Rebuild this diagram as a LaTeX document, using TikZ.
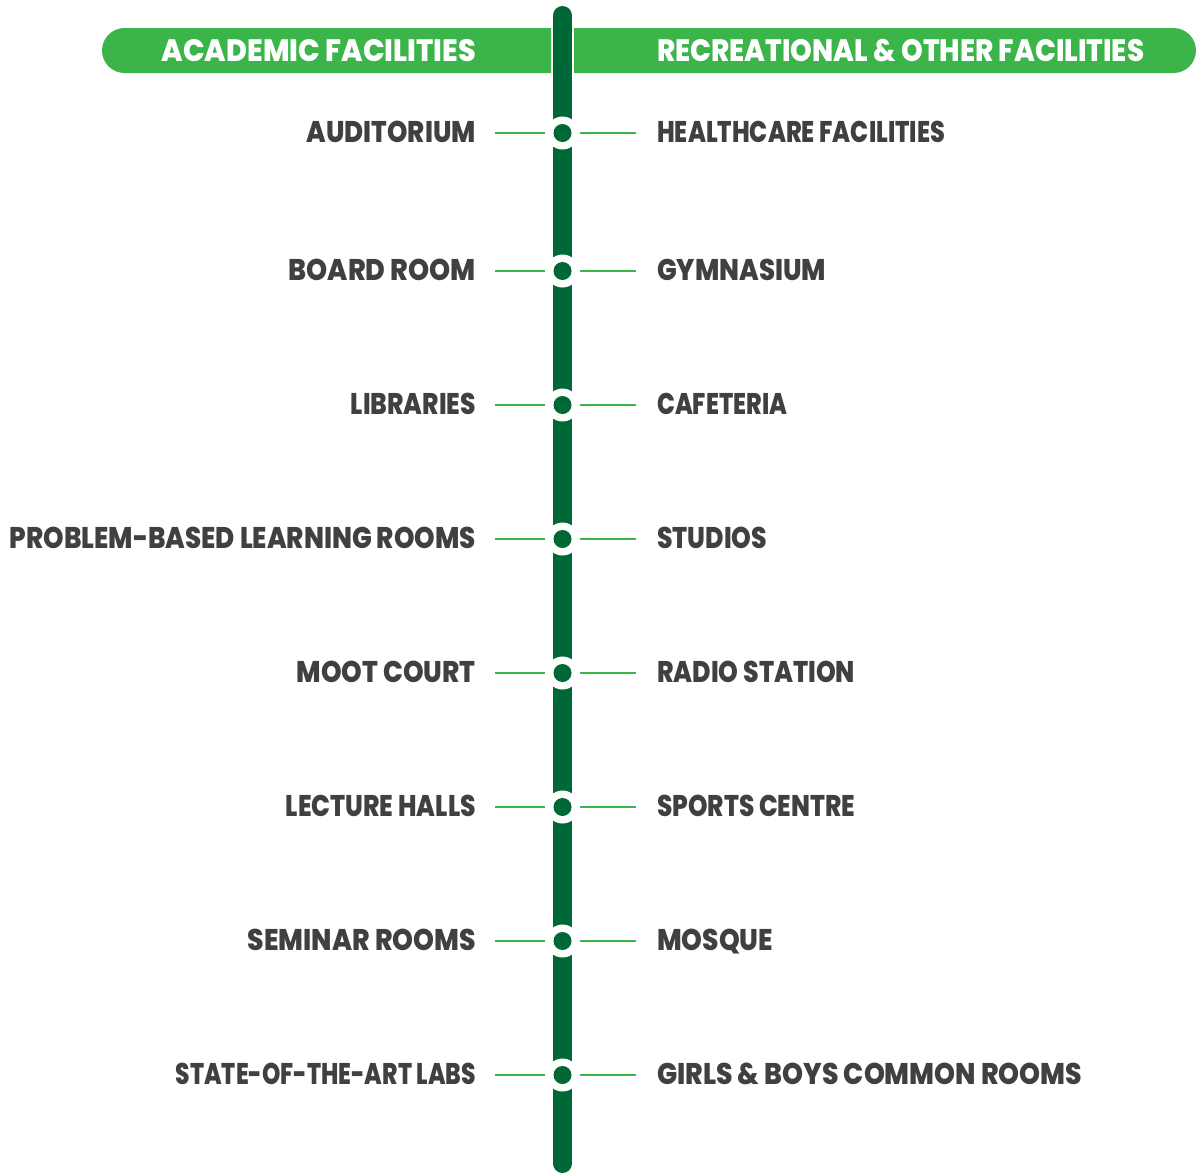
\documentclass[tikz,border=0pt]{standalone}
\usepackage{fontspec}
\setmainfont{Poppins}[UprightFont=* ExtraBold, BoldFont=* ExtraBold]
\definecolor{dkgreen}{HTML}{006837}
\definecolor{ltgreen}{HTML}{3BB54A}
\definecolor{txtgray}{HTML}{404041}
\newcommand{\fitw}[2]{\resizebox{#1bp}{\height}{#2}}
\begin{document}
\begin{tikzpicture}[x=1bp,y=-1bp,
  itemL/.style={anchor=base east,inner sep=0,text=txtgray,font=\fontsize{30}{30}\selectfont},
  itemR/.style={anchor=base west,inner sep=0,text=txtgray,font=\fontsize{30}{30}\selectfont},
  title/.style={inner sep=0,text=white,font=\fontsize{31}{31}\selectfont},
  tick/.style={draw=ltgreen,line width=2bp},
  ring/.style={circle,fill=white,minimum size=33bp,inner sep=0},
  dot/.style={circle,fill=dkgreen,minimum size=18bp,inner sep=0}]
\useasboundingbox (0,0) rectangle (1198,1174);
% headers
\begin{scope}
  \clip (0,0) rectangle (551,100);
  \fill[ltgreen,rounded corners=22.5bp] (102,28) rectangle (620,73);
\end{scope}
\begin{scope}
  \clip (574,0) rectangle (1198,100);
  \fill[ltgreen,rounded corners=22.5bp] (520,28) rectangle (1196,73);
\end{scope}
\node[title,anchor=base east] (tl) at (476,61) {\fitw{314}{ACADEMIC FACILITIES}};
\node[title,anchor=base west] (tr) at (657,61) {\fitw{487}{RECREATIONAL \& OTHER FACILITIES}};
% spine
\coordinate (top) at (562.5,15.5);
\coordinate (bot) at (562.5,1163.5);
\draw[dkgreen,line width=19bp,line cap=round] (top) -- (bot);
% items
\foreach \i/\yy/\wl/\l/\wr/\r in {0/133/169/AUDITORIUM/288/HEALTHCARE FACILITIES,
  1/271/187/BOARD ROOM/169/GYMNASIUM,
  2/405/125/LIBRARIES/130/CAFETERIA,
  3/539/466/PROBLEM-BASED LEARNING ROOMS/110/STUDIOS,
  4/673/179/MOOT COURT/198/RADIO STATION,
  5/807/190/LECTURE HALLS/198/SPORTS CENTRE,
  6/941/228/SEMINAR ROOMS/116/MOSQUE,
  7/1075/300/STATE-OF-THE-ART LABS/425/GIRLS \& BOYS COMMON ROOMS}{
  \node[ring] (r\i) at (562.5,\yy) {};
  \node[dot] (d\i) at (562.5,\yy) {};
  \coordinate (la\i) at (495,\yy);
  \coordinate (lb\i) at (545,\yy);
  \coordinate (ra\i) at (579.5,\yy);
  \coordinate (rb\i) at (636,\yy);
  \draw[tick] (la\i) -- (lb\i);
  \draw[tick] (ra\i) -- (rb\i);
  \node[itemL] (L\i) at (476,\yy+9.5) {\fitw{\wl}{\l}};
  \node[itemR] (R\i) at (657,\yy+9) {\fitw{\wr}{\r}};
}
\end{tikzpicture}
\end{document}
